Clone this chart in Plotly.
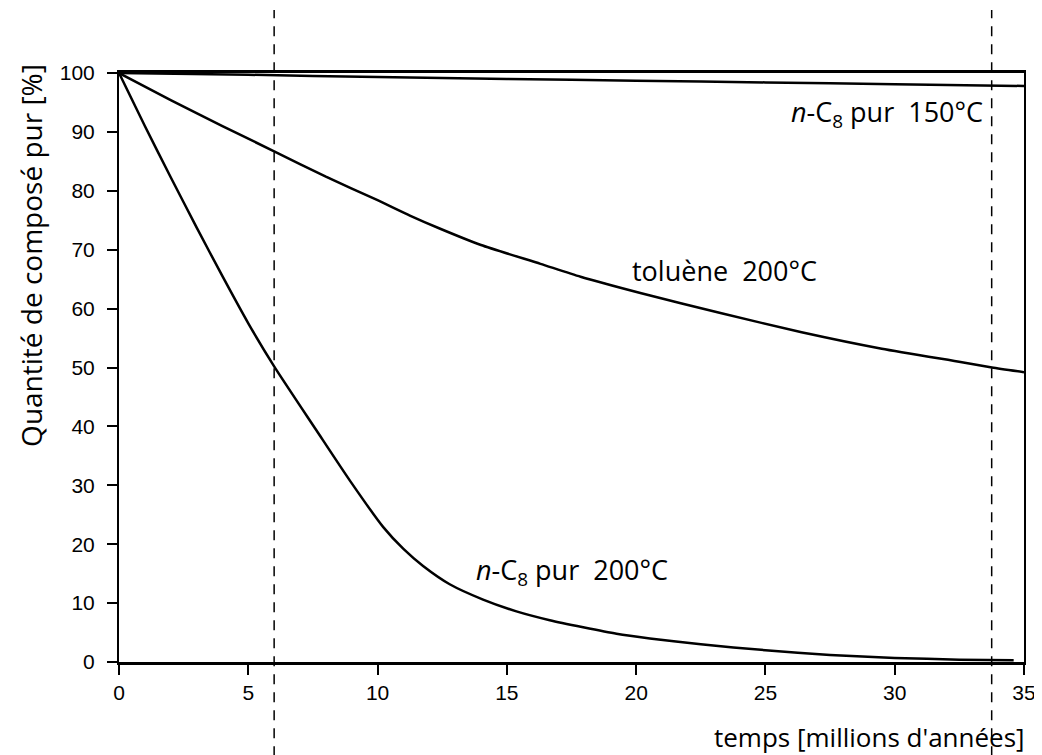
import plotly.graph_objects as go

# temps [millions d'années] / quantité [%]
t_c8_150 = [0, 5, 10, 15, 20, 25, 30, 35]
q_c8_150 = [100, 99.7, 99.3, 99.0, 98.7, 98.4, 98.1, 97.8]

t_toluene = [0, 2, 4, 6, 8, 10, 11.25, 12.4, 14, 16.3, 17.85, 20.2, 23.3, 26.4, 29.5, 32.6, 33.76, 35]
q_toluene = [100, 95.4, 91.0, 86.7, 82.4, 78.4, 75.8, 73.6, 70.8, 67.6, 65.4, 62.6, 59.2, 56.0, 53.2, 50.9, 50.0, 49.2]

t_c8_200 = [0, 1, 2, 3, 4, 5, 6, 7.64, 8.93, 10.22, 11, 11.76, 12.79, 14.08, 15.37, 16.66,
            17.95, 19.24, 20.53, 22.5, 25, 27.5, 30, 32.5, 34.6]
q_c8_200 = [100, 91.0, 82.3, 73.8, 65.5, 57.5, 50.2, 39.3, 30.8, 22.9, 19.2, 16.3, 13.2, 10.6, 8.6, 7.1,
            5.9, 4.8, 4.0, 3.0, 2.0, 1.2, 0.7, 0.4, 0.3]

dashed_x = [6, 33.75]
x_ticks = [0, 5, 10, 15, 20, 25, 30, 35]
y_ticks = [0, 10, 20, 30, 40, 50, 60, 70, 80, 90, 100]

curve_font = dict(family="Open Sans", size=27, color="black")
tick_font = dict(family="Liberation Sans", size=21, color="black")

fig = go.Figure()
for t, q in [(t_c8_150, q_c8_150), (t_toluene, q_toluene), (t_c8_200, q_c8_200)]:
    fig.add_trace(go.Scatter(x=t, y=q, mode="lines", line=dict(color="black", width=2.5, shape="spline", smoothing=0.6),
                             showlegend=False, hoverinfo="skip"))

for xd in dashed_x:
    fig.add_shape(type="line", xref="x", yref="paper", x0=xd, x1=xd, y0=-0.16, y1=1.107,
                  line=dict(color="black", width=1.5, dash="10px,8px"))

fig.add_annotation(x=33.5, y=93.2, xref="x", yref="y", xanchor="right", yanchor="middle", showarrow=False,
                   text="<i>n</i>-C<sub>8</sub> pur&nbsp;&nbsp;150°C", font=curve_font)
fig.add_annotation(x=23.4, y=66.5, xref="x", yref="y", xanchor="center", yanchor="middle", showarrow=False,
                   text="toluène&nbsp;&nbsp;200°C", font=curve_font)
fig.add_annotation(x=17.5, y=15.3, xref="x", yref="y", xanchor="center", yanchor="middle", showarrow=False,
                   text="<i>n</i>-C<sub>8</sub> pur&nbsp;&nbsp;200°C", font=curve_font)

# titres des axes
fig.add_annotation(x=1.003, y=-0.127, xref="paper", yref="paper", xanchor="right", yanchor="middle", showarrow=False,
                   text="temps [millions d'années]", font=dict(family="Open Sans", size=26, color="black"))
fig.add_annotation(x=-0.098, y=0.69, xref="paper", yref="paper", xanchor="center", yanchor="middle", showarrow=False,
                   text="Quantité de composé pur [%]", textangle=-90,
                   font=dict(family="Open Sans", size=28, color="black"))

fig.update_xaxes(range=[0, 35], tickvals=x_ticks, ticks="outside", ticklen=10, tickwidth=1.5, tickcolor="black",
                 showline=True, linewidth=3, linecolor="black", mirror=True, showgrid=False, zeroline=False,
                 automargin=False, tickfont=tick_font)
fig.update_yaxes(range=[0, 100], tickvals=y_ticks, ticks="outside", ticklen=10, tickwidth=1.5, tickcolor="black",
                 showline=True, linewidth=2, linecolor="black", mirror=True, showgrid=False, zeroline=False,
                 automargin=False, ticklabelstandoff=8, tickfont=tick_font)

# la page ajoute 8 px de marge autour de la figure
fig.update_layout(width=1034, height=747, margin=dict(l=111, r=18, t=65, b=93),
                  plot_bgcolor="white", paper_bgcolor="white")

fig.write_html("out.html")
